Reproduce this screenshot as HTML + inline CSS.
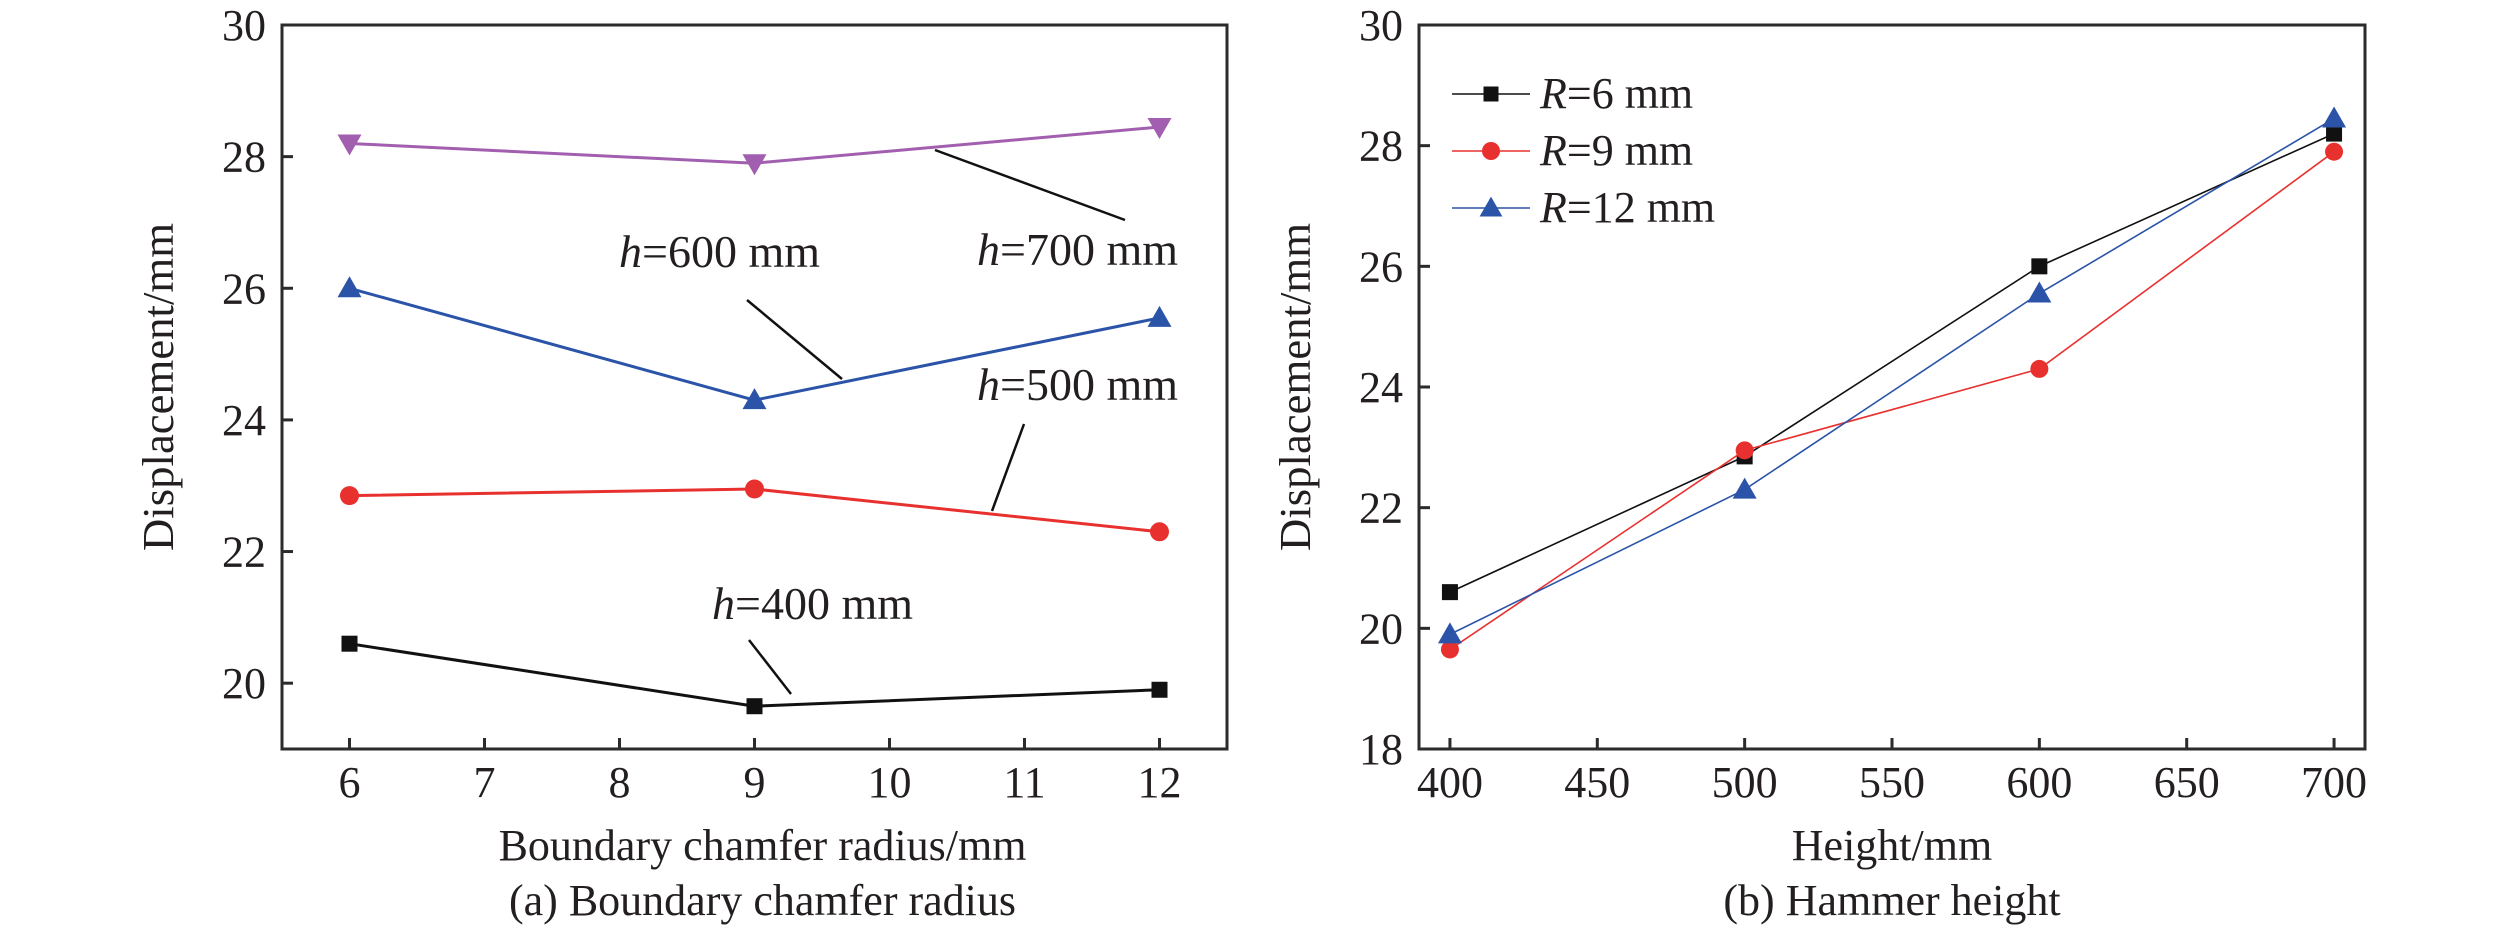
<!DOCTYPE html>
<html><head><meta charset="utf-8"><style>
html,body{margin:0;padding:0;background:#fff}
svg{display:block}
text{font-family:"Liberation Serif",serif;fill:#231f20}
</style></head><body>
<svg id="fig" width="2520" height="930" viewBox="0 0 2520 930" xmlns="http://www.w3.org/2000/svg">
<g id="pa"></g>
<g id="pb"></g>
</svg>
<script>
// Chart (a)
const aCats = [6, 9, 12];
const aSeriesNames = ["h=400 mm","h=500 mm","h=600 mm","h=700 mm"];
const aH400 = [20.6, 19.65, 19.9];
const aH500 = [22.85, 22.95, 22.3];
const aH600 = [26.0, 24.3, 25.55];
const aH700 = [28.2, 27.9, 28.45];
const aXTicks = [6,7,8,9,10,11,12];
const aYTicks = [20,22,24,26,28,30];
// Chart (b)
const bCats = [400, 500, 600, 700];
const bR6 = [20.6, 22.85, 26.0, 28.2];
const bR9 = [19.65, 22.95, 24.3, 27.9];
const bR12 = [19.9, 22.3, 25.55, 28.45];
const bXTicks = [400,450,500,550,600,650,700];
const bYTicks = [18,20,22,24,26,28,30];

const NS = "http://www.w3.org/2000/svg";
function mk(parent, tag, attrs, txt){
  const e = document.createElementNS(NS, tag);
  for (const k in attrs) e.setAttribute(k, attrs[k]);
  if (txt !== undefined) e.textContent = txt;
  parent.appendChild(e); return e;
}
function marker(g, type, cx, cy, color, s){
  let e;
  if (type === "sq") e = mk(g,"rect",{x:cx-s/2,y:cy-s/2,width:s,height:s,fill:color});
  else if (type === "ci") e = mk(g,"circle",{cx:cx,cy:cy,r:s/2,fill:color});
  else if (type === "up") e = mk(g,"polygon",{points:`${cx},${cy-s*0.6} ${cx-s*0.6},${cy+s*0.45} ${cx+s*0.6},${cy+s*0.45}`,fill:color});
  else e = mk(g,"polygon",{points:`${cx},${cy+s*0.6} ${cx-s*0.6},${cy-s*0.45} ${cx+s*0.6},${cy-s*0.45}`,fill:color});
  return e;
}
function frame(g, L, T, R, B, xt, yt, sx, sy, ytitle, xtitle, cap, capx){
  const fr = mk(g,"rect",{x:L,y:T,width:R-L,height:B-T,fill:"none",stroke:"#2b2b2b","stroke-width":3});
  
  
  xt.forEach(v=>{
    const x = sx(v);
    mk(g,"line",{x1:x,y1:B,x2:x,y2:B-11,stroke:"#2b2b2b","stroke-width":3});
    const t = mk(g,"text",{x:x,y:797,"font-size":44,"text-anchor":"middle"},String(v));
    
    
  });
  yt.forEach(v=>{
    const y = sy(v);
    mk(g,"line",{x1:L,y1:y,x2:L+11,y2:y,stroke:"#2b2b2b","stroke-width":3});
    const t = mk(g,"text",{x:L-16,y:y+15,"font-size":44,"text-anchor":"end"},String(v));
    
    
  });
  const yc = 387, xc = L-109;
  const yt2 = mk(g,"text",{x:xc,y:yc,"font-size":44,"text-anchor":"middle",transform:`rotate(-90 ${xc} ${yc})`,textLength:328,lengthAdjust:"spacingAndGlyphs"},ytitle);
  
  
  const xtt = mk(g,"text",{x:capx,y:860,"font-size":44,"text-anchor":"middle"},xtitle);
  
  
  const c = mk(g,"text",{x:capx,y:915,"font-size":44,"text-anchor":"middle"},cap);
  
  
}

// ---- chart a ----
(function(){
  const g = document.getElementById("pa");
  const L=282,R=1227,T=25,B=749, xmin=5.5,xmax=12.5,ymin=19,ymax=30;
  const sx = v => L + (v-xmin)/(xmax-xmin)*(R-L);
  const sy = v => B - (v-ymin)/(ymax-ymin)*(B-T);
  frame(g,L,T,R,B,aXTicks,aYTicks,sx,sy,"Displacement/mm","Boundary chamfer radius/mm","(a) Boundary chamfer radius",(L+R)/2+8);
  const series = [[aH400,"#111111","sq","series-h400"],[aH500,"#e8312f","ci","series-h500"],[aH600,"#2b54a8","up","series-h600"],[aH700,"#a25fb0","dn","series-h700"]];
  series.forEach(([vals,col,m,name])=>{
    const sg = mk(g,"g",{});
    
    
    const pts = vals.map((v,i)=>`${sx(aCats[i])},${sy(v)}`).join(" ");
    mk(sg,"polyline",{points:pts,fill:"none",stroke:col,"stroke-width":3});
    vals.forEach((v,i)=>{
      const mm = marker(sg,m,sx(aCats[i]),sy(v),col,m==="ci"?19:(m==="sq"?16:20));
      
      
    });
  });
  const ann = [
    ["h","=700 mm",977,265,[935,150,1125,220]],
    ["h","=600 mm",619,267,[747,300,842,379]],
    ["h","=500 mm",977,400,[1024,424,992,511]],
    ["h","=400 mm",712,619,[749,640,791,694]]
  ];
  ann.forEach(([it,rest,x,y,ln],k)=>{
    const l = mk(g,"line",{x1:ln[0],y1:ln[1],x2:ln[2],y2:ln[3],stroke:"#111","stroke-width":2.5});
    
    
    const t = mk(g,"text",{x:x,y:y,"font-size":46});
    
    
    mk(t,"tspan",{"font-style":"italic"},it);
    mk(t,"tspan",{},rest);
  });
})();

// ---- chart b ----
(function(){
  const g = document.getElementById("pb");
  const L=1419,R=2365,T=25,B=749, xmin=389.5,xmax=710.5,ymin=18,ymax=30;
  const sx = v => L + (v-xmin)/(xmax-xmin)*(R-L);
  const sy = v => B - (v-ymin)/(ymax-ymin)*(B-T);
  frame(g,L,T,R,B,bXTicks,bYTicks,sx,sy,"Displacement/mm","Height/mm","(b) Hammer height",(L+R)/2);
  const series = [[bR6,"#111111","sq","series-r6","=6 mm"],[bR9,"#e8312f","ci","series-r9","=9 mm"],[bR12,"#2b54a8","up","series-r12","=12 mm"]];
  series.forEach(([vals,col,m,name,lab],k)=>{
    const sg = mk(g,"g",{});
    
    
    const pts = vals.map((v,i)=>`${sx(bCats[i])},${sy(v)}`).join(" ");
    mk(sg,"polyline",{points:pts,fill:"none",stroke:col,"stroke-width":1.6});
    vals.forEach((v,i)=>{
      const mm = marker(sg,m,sx(bCats[i]),sy(v),col,m==="ci"?18:(m==="sq"?16:20));
      
      
    });
    const ly = 94 + k*57;
    const lg = mk(g,"g",{});
    
    
    mk(lg,"line",{x1:1452,y1:ly,x2:1530,y2:ly,stroke:col,"stroke-width":1.6});
    marker(lg,m,1491,ly,col,m==="ci"?18:(m==="sq"?15:19));
    const t = mk(lg,"text",{x:1540,y:ly+14,"font-size":44});
    mk(t,"tspan",{"font-style":"italic"},"R");
    mk(t,"tspan",{},lab);
  });
})();
</script>
</body></html>
